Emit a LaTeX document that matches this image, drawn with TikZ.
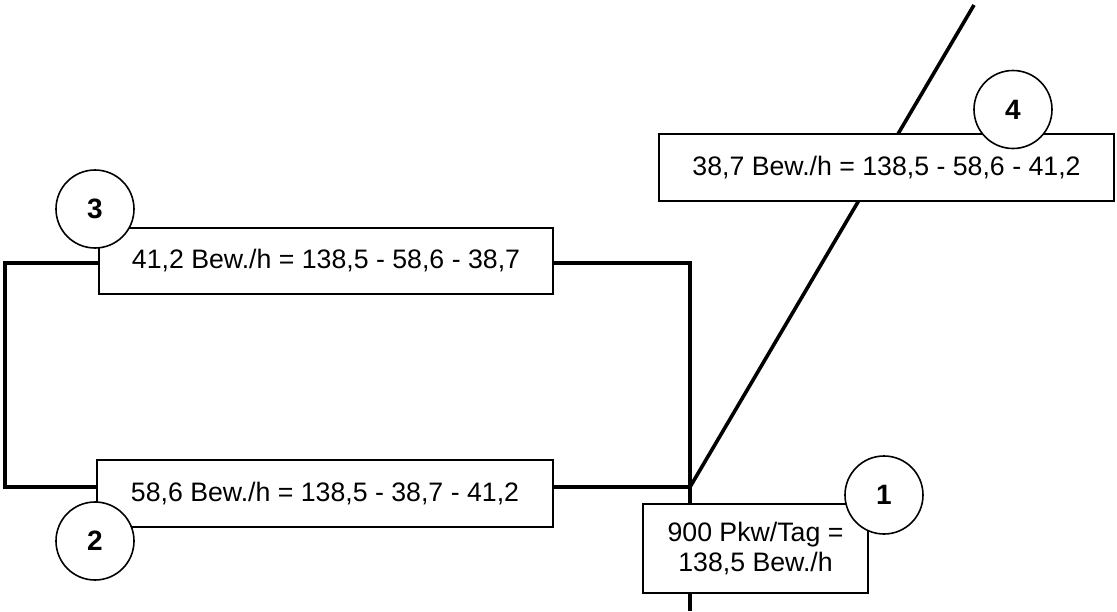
\documentclass[tikz,border=0pt]{standalone}
\usepackage{fontspec}
\setmainfont{Liberation Sans}
\usetikzlibrary{backgrounds}

\tikzset{
  strasse/.style={line width=3.6pt},
  kasten/.style={draw, fill=white, line width=1.6pt, inner sep=0pt, align=center,
    font=\fontsize{26.7}{30}\selectfont},
  punkt/.style={circle, draw, fill=white, line width=1.6pt, minimum size=78pt,
    inner sep=0pt, font=\fontsize{28}{30}\selectfont\bfseries}
}

\begin{document}
\begin{tikzpicture}[x=1pt, y=-1pt]
\useasboundingbox (0,0) rectangle (1117,611);

\node[kasten, minimum width=454pt, minimum height=66pt] (k3) at (326,261) {41,2 Bew./h = 138,5 - 58,6 - 38,7};
\node[kasten, minimum width=456pt, minimum height=67pt] (k2) at (325,493.5) {58,6 Bew./h = 138,5 - 38,7 - 41,2};
\node[kasten, minimum width=455pt, minimum height=67pt] (k4) at (886.5,167.5) {38,7 Bew./h = 138,5 - 58,6 - 41,2};
\node[kasten, minimum width=225pt, minimum height=89pt] (k1) at (755.5,548.5) {900 Pkw/Tag =\\138,5 Bew./h};

\node[punkt] (p1) at (884,495) {1};
\node[punkt] (p2) at (95,541) {2};
\node[punkt] (p3) at (95,209) {3};
\node[punkt] (p4) at (1013,109.5) {4};

\coordinate (lo) at (5,263);
\coordinate (lu) at (5,487);
\coordinate (ro) at (690,263);
\coordinate (kn) at (690,487);
\coordinate (su) at (690,611);
\coordinate (no) at (974,5);

\begin{scope}[on background layer]
\draw[strasse] (k3.west |- lo) -- (lo) -- (lu) -- (k2.west |- lu);
\draw[strasse] (k3.east |- ro) -- (ro) -- (kn) -- (k2.east |- kn);
\draw[strasse] (kn) -- (su);
\draw[strasse] (kn) -- (no);
\end{scope}
\end{tikzpicture}
\end{document}
